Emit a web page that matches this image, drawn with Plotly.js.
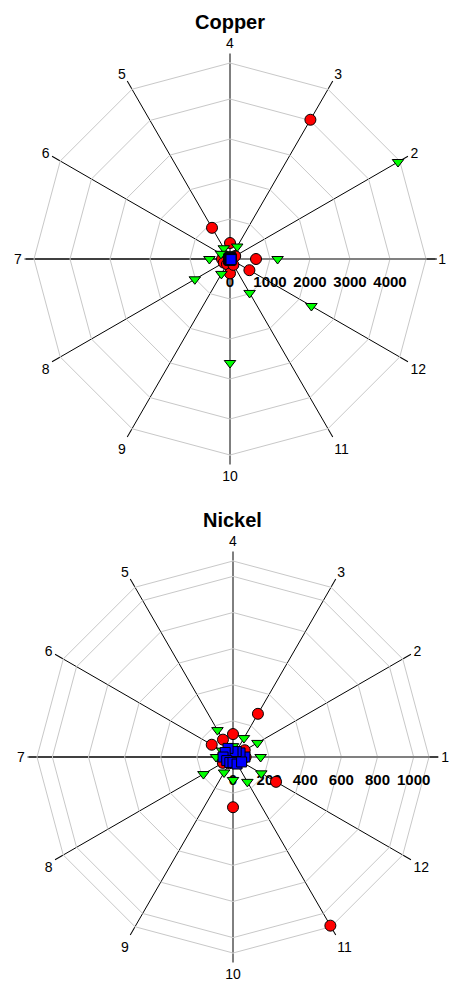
<!DOCTYPE html>
<html>
<head>
<meta charset="utf-8">
<script src="https://cdn.plot.ly/plotly-3.0.1.min.js"></script>
<style>html,body{margin:0;padding:0;background:#fff;}#chart{width:451px;height:983px;}</style>
</head>
<body>
<div id="chart"></div>
<script>
// Directions (angular categories)
const directions = ['1','2','3','4','5','6','7','8','9','10','11','12'];

// Copper values per direction
const copperRed   = [650, 150, 4020, 400, 900, 160, 200, 180, 150, 360, 170, 560];
const copperGreen = [1190, 4850, 360, 120, 310, 260, 515, 1015, 430, 2600, 980, 2350];
const copperBlue  = [30, 30, 30, 30, 30, 30, 30, 30, 30, 30, 30, 30];
const copperTicks = [0, 1000, 2000, 3000, 4000];

// Nickel values per direction
const nickelRed   = [70, 75, 276, 127, 111, 136, 60, 65, 40, 278, 1078, 275];
const nickelGreen = [153, 156, 121, 60, 172, 70, 94, 189, 99, 127, 159, 181];
const nickelBlue  = [66, 45, 35, 30, 55, 50, 55, 40, 35, 30, 45, 55];
const nickelTicks = [0, 200, 400, 600, 800, 1000];

const W = 451, H = 983;
const px = v => v / W;
const py = v => 1 - v / H;

function series(r, subplot, sym, color, size) {
  return {
    type: 'scatterpolar', mode: 'markers', r: r, theta: directions, subplot: subplot,
    marker: {symbol: sym, color: color, size: size, line: {color: 'black', width: 1}},
    hoverinfo: 'r+theta', cliponaxis: false
  };
}

const data = [
  series(copperRed, 'polar', 'circle', '#ff0000', 11),
  series(copperGreen, 'polar', 'triangle-down', '#00ff00', 10),
  series(copperBlue, 'polar', 'square', '#0000ff', 10),
  series(nickelRed, 'polar2', 'circle', '#ff0000', 11),
  series(nickelGreen, 'polar2', 'triangle-down', '#00ff00', 10),
  series(nickelBlue, 'polar2', 'square', '#0000ff', 10)
];

function polarLayout(cx, cy, R, rmax, ticks) {
  return {
    domain: {x: [px(cx - R), px(cx + R)], y: [py(cy + R), py(cy - R)]},
    gridshape: 'linear',
    bgcolor: 'rgba(0,0,0,0)',
    angularaxis: {
      type: 'category', categoryorder: 'array', categoryarray: directions,
      direction: 'counterclockwise', rotation: 0,
      showgrid: true, gridcolor: '#000000', gridwidth: 1,
      showline: true, linecolor: '#c8c8c8', linewidth: 1,
      ticks: 'outside', ticklen: 9, tickcolor: '#000000', tickwidth: 1,
      tickfont: {family: 'Liberation Sans, Arial, sans-serif', size: 14, color: '#000'},
      layer: 'below traces'
    },
    radialaxis: {
      range: [0, rmax], tickvals: ticks, ticktext: ticks.map(String),
      angle: 0, side: 'clockwise',
      showgrid: true, gridcolor: '#c8c8c8', gridwidth: 1,
      showline: true, linecolor: '#808080', linewidth: 2,
      ticks: 'outside', ticklen: 9, tickcolor: 'rgba(0,0,0,0)',
      tickfont: {family: 'Liberation Sans, Arial, sans-serif', size: 15, color: '#000', weight: 'bold'},
      tickangle: 0,
      layer: 'below traces'
    }
  };
}

const layout = {
  width: W, height: H,
  margin: {l: 0, r: 0, t: 0, b: 0},
  paper_bgcolor: '#fff', plot_bgcolor: '#fff',
  showlegend: false,
  polar: polarLayout(230, 259, 196, 4900, copperTicks),
  polar2: polarLayout(233, 757, 196, 1085, nickelTicks),
  shapes: [
    {type: 'line', xref: 'paper', yref: 'paper', layer: 'below',
     x0: px(26), x1: px(437), y0: py(259), y1: py(259), line: {color: '#808080', width: 2}},
    {type: 'line', xref: 'paper', yref: 'paper', layer: 'below',
     x0: px(29), x1: px(438), y0: py(757), y1: py(757), line: {color: '#808080', width: 2}}
  ],
  annotations: [
    {text: 'Copper', xref: 'paper', yref: 'paper', x: px(230), y: py(22), xanchor: 'center', yanchor: 'middle',
     showarrow: false, font: {family: 'Liberation Sans, Arial, sans-serif', size: 20, color: '#000', weight: 'bold'}},
    {text: 'Nickel', xref: 'paper', yref: 'paper', x: px(232), y: py(520), xanchor: 'center', yanchor: 'middle',
     showarrow: false, font: {family: 'Liberation Sans, Arial, sans-serif', size: 20, color: '#000', weight: 'bold'}}
  ]
};

Plotly.newPlot('chart', data, layout, {displayModeBar: false, staticPlot: true});
</script>
</body>
</html>
